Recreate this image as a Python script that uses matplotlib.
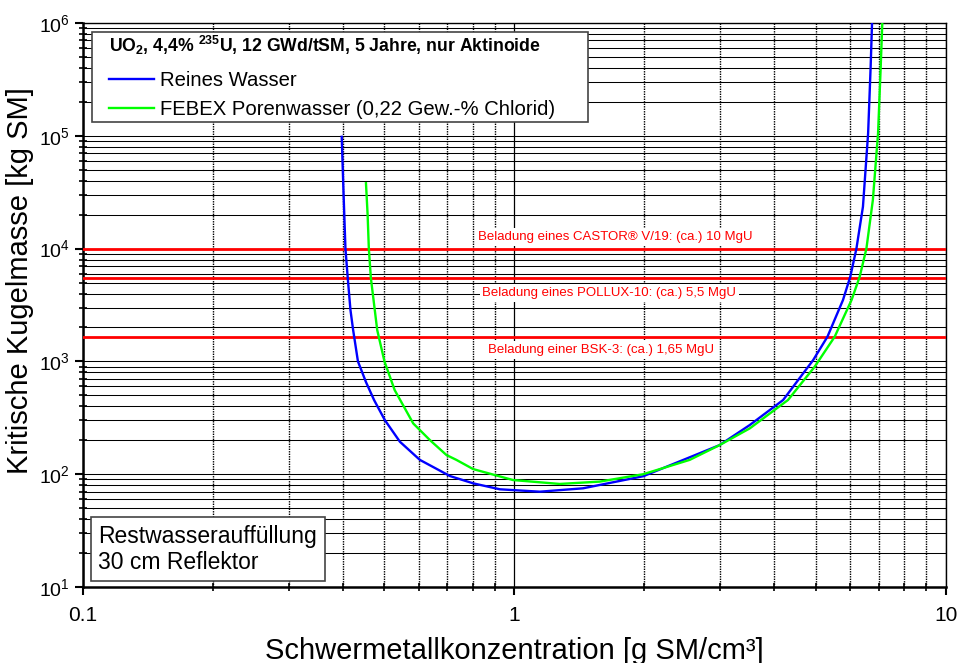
import numpy as np
import matplotlib
matplotlib.use('Agg')
import matplotlib.pyplot as plt
from matplotlib.patches import Rectangle
from matplotlib.ticker import LogLocator, NullFormatter, FixedLocator, FixedFormatter

plt.rcParams['font.family'] = ['Liberation Sans', 'DejaVu Sans']
plt.rcParams['mathtext.fontset'] = 'custom'
plt.rcParams['mathtext.rm'] = 'Liberation Sans'
plt.rcParams['mathtext.bf'] = 'Liberation Sans:bold'

# Reines Wasser
blue_x = [0.398, 0.402, 0.406, 0.411, 0.417, 0.423, 0.434, 0.453, 0.473, 0.501, 0.543,
          0.604, 0.709, 0.803, 0.926, 1.146, 1.443, 1.99, 2.99, 3.515, 4.20, 4.93, 5.32,
          5.78, 6.01, 6.21, 6.43, 6.61, 6.70, 6.75]
blue_y = [98000, 30000, 10000, 5500, 2860, 1900, 1000, 656, 455, 302, 194,
          134, 96.4, 83, 73.5, 70, 75, 96, 181, 273, 455, 1028, 1655,
          3500, 5640, 10000, 23500, 105000, 410000, 1000000]

# FEBEX Porenwasser
green_x = [0.453, 0.457, 0.460, 0.465, 0.481, 0.500, 0.528, 0.583, 0.637, 0.696, 0.734,
           0.803, 0.993, 1.274, 1.578, 1.99, 2.55, 2.99, 3.515, 4.31, 4.97, 5.53, 6.05,
           6.32, 6.55, 6.78, 6.97, 7.07, 7.13]
green_y = [38000, 20000, 10000, 5500, 1900, 1000, 557, 282, 201, 148, 134,
           111, 88.8, 82, 86, 100, 134, 181, 255, 455, 898, 1655, 3500,
           5640, 10000, 27000, 105000, 410000, 1000000]

# Beladungen
load_vals = [10000, 5500, 1650]
load_labels = ['Beladung eines CASTOR® V/19: (ca.) 10 MgU',
               'Beladung eines POLLUX-10: (ca.) 5,5 MgU',
               'Beladung einer BSK-3: (ca.) 1,65 MgU']
label_x = [1.71, 1.66, 1.59]
label_y = [12740, 4020, 1262]

fig = plt.figure(figsize=(9.59, 6.63), dpi=100)
ax = fig.add_axes([0.0865, 0.1146, 0.8996, 0.8507])
ax.set_xscale('log')
ax.set_yscale('log')
ax.set_xlim(0.1, 10)
ax.set_ylim(10, 1e6)

# Gitter
ax.xaxis.set_minor_locator(LogLocator(base=10, subs=np.arange(2, 10)))
ax.yaxis.set_minor_locator(LogLocator(base=10, subs=np.arange(2, 10), numticks=20))
ax.yaxis.set_major_locator(LogLocator(base=10, numticks=20))
ax.xaxis.set_minor_formatter(NullFormatter())
ax.yaxis.set_minor_formatter(NullFormatter())
ax.xaxis.set_major_locator(FixedLocator([0.1, 1, 10]))
ax.xaxis.set_major_formatter(FixedFormatter(['0.1', '1', '10']))

ax.grid(which='major', axis='x', color='black', linewidth=0.9, linestyle='-')
ax.grid(which='minor', axis='x', color='black', linewidth=1.0, linestyle=(0, (1, 0.8)))
ax.grid(which='both', axis='y', color='black', linewidth=0.75, linestyle='-')

for yv in load_vals:
    ax.axhline(yv, color='#ff0000', linewidth=2.0, zorder=3)
for t, xv, yv in zip(load_labels, label_x, label_y):
    ax.text(xv, yv, t, color='#ff0000', fontsize=9.5, ha='center', va='center', zorder=4,
            bbox=dict(facecolor='white', edgecolor='none', pad=2))

ax.plot(blue_x, blue_y, color='#0000ff', linewidth=1.7, label='Reines Wasser', zorder=5)
ax.plot(green_x, green_y, color='#00ff00', linewidth=1.7,
        label='FEBEX Porenwasser (0,22 Gew.-% Chlorid)', zorder=5)

# Legendenrahmen
ax.add_patch(Rectangle((0.0104, 0.8245), 0.575, 0.1596, transform=ax.transAxes,
                       facecolor='white', edgecolor='#444444', linewidth=1.2, zorder=9))
leg = ax.legend(loc='upper left', bbox_to_anchor=(0.0301, 0.981), borderaxespad=0,
                fontsize=14.6,
                title=r'UO$_\mathbf{2}$, 4,4% $^\mathbf{235}$U, 12 GWd/tSM, 5 Jahre, nur Aktinoide',
                title_fontproperties={'weight': 'bold', 'size': 12.7},
                alignment='left', frameon=False,
                handlelength=2.2, borderpad=0, labelspacing=0.5, handletextpad=0.3)
leg._legend_box.sep = 10
leg.set_zorder(10)

ax.text(0.0093 + 0.0085, 0.0124 + 0.0115, 'Restwasserauffüllung\n30 cm Reflektor',
        transform=ax.transAxes, fontsize=16.5, ha='left', va='bottom', zorder=10,
        linespacing=1.15,
        bbox=dict(facecolor='white', edgecolor='#444444', linewidth=1.2, pad=5.5))

ax.set_xlabel('Schwermetallkonzentration [g SM/cm³]', fontsize=21, labelpad=8)
ax.set_ylabel('Kritische Kugelmasse [kg SM]', fontsize=21)
ax.yaxis.set_label_coords(-0.057, 0.5434)

ax.tick_params(axis='both', which='major', labelsize=14, direction='out', length=6, width=1.5)
ax.tick_params(axis='x', which='major', labelsize=15, pad=8)
ax.tick_params(axis='both', which='minor', direction='inout', length=6, width=1.2)
for s in ['left', 'bottom']:
    ax.spines[s].set_linewidth(1.8)
for s in ['top', 'right']:
    ax.spines[s].set_linewidth(1.0)

fig.savefig('out.png', dpi=100)
